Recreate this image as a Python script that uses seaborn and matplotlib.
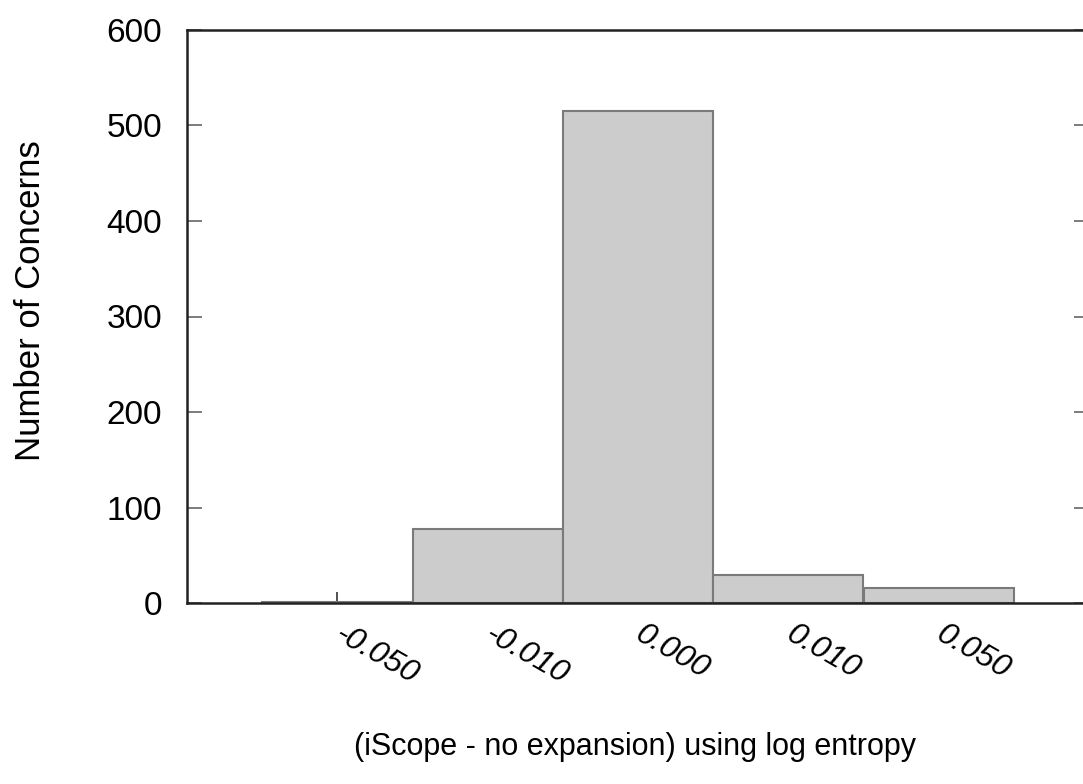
import matplotlib
matplotlib.use("Agg")
import matplotlib.pyplot as plt
import seaborn as sns
import pandas as pd

categories = ["-0.050", "-0.010", "0.000", "0.010", "0.050"]
counts = [1, 77, 515, 29, 16]
y_ticks = [0, 100, 200, 300, 400, 500, 600]

sns.set_theme(style="white")
plt.rcParams["font.family"] = ["Liberation Sans", "DejaVu Sans"]
plt.rcParams["text.color"] = "black"
plt.rcParams["axes.labelcolor"] = "black"
plt.rcParams["xtick.color"] = "black"
plt.rcParams["ytick.color"] = "black"

df = pd.DataFrame({"bin": categories, "count": counts})

fig = plt.figure(figsize=(10.83, 7.84), dpi=100)
ax = fig.add_axes([187 / 1083, 1 - 603 / 784, (1089 - 187) / 1083, (603 - 30) / 784])

sns.barplot(data=df, x="bin", y="count", order=categories, color="#cccccc",
            edgecolor="#7a7a7a", linewidth=1.5, width=1.0, saturation=1, ax=ax)

ax.set_xlim(-1, 5)
ax.set_ylim(0, 600)
ax.set_yticks(y_ticks)
ax.set_yticklabels([str(v) for v in y_ticks], fontsize=24)

for side in ["left", "bottom", "top", "right"]:
    ax.spines[side].set_visible(True)
    ax.spines[side].set_color("#222222")
    ax.spines[side].set_linewidth(1.8)

ax.tick_params(axis="y", direction="in", length=11, width=1.2, color="#666666",
               left=True, right=True, pad=18, labelsize=24, labelcolor="black")
ax.tick_params(axis="x", direction="in", length=8, width=1.2, color="#333333",
               bottom=True, top=False, pad=21, labelcolor="black")
ax.set_xticks(range(len(categories)))
ax.set_xticklabels(categories, rotation=-30, ha="left", va="center",
                   rotation_mode="anchor", fontsize=23, style="italic")

ax.set_xlabel("(iScope - no expansion) using log entropy", fontsize=22)
ax.xaxis.set_label_coords(0.497, -0.225)
ax.set_ylabel("Number of Concerns", fontsize=25)
ax.yaxis.set_label_coords(-0.155, 0.527)

fig.savefig("out.png", dpi=100)
